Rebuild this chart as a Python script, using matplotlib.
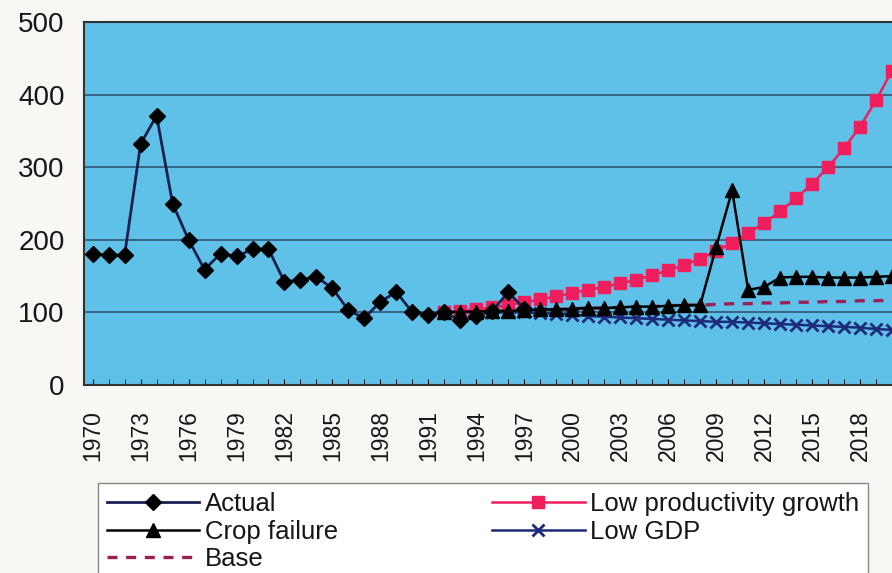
import numpy as np
import matplotlib.pyplot as plt

plt.rcParams['font.family'] = ['Liberation Sans', 'DejaVu Sans']

# skutečné hodnoty 1970-1997
years_actual = list(range(1970, 1998))
actual = [181, 179, 179, 332, 371, 250, 200, 159, 181, 177,
          187, 187, 142, 145, 149, 133, 103, 92, 115, 128,
          100, 97, 100, 89, 95, 102, 128, 105]

# projekce 1992-2020
years_proj = list(range(1992, 2021))
base = [100, 101, 101, 102, 102, 103, 104, 104, 105, 106,
        106, 107, 108, 108, 109, 110, 110, 111, 112, 112,
        113, 113, 114, 114, 115, 115, 116, 116, 117]
crop_failure = [100, 101, 101, 102, 102, 103, 104, 104, 105, 106,
                106, 107, 108, 108, 109, 110, 110, 190, 268, 131,
                135, 148, 149, 149, 148, 148, 148, 149, 150]
low_productivity = [100, 102, 104, 107, 110, 114, 118, 122, 127, 131,
                    135, 140, 145, 151, 158, 165, 174, 184, 196, 209,
                    223, 239, 257, 277, 300, 326, 356, 392, 433]
low_gdp = [100, 100, 100, 100, 100, 100, 99, 98, 97, 95,
           94, 93, 92, 91, 90, 89, 88, 87, 87, 86,
           85, 84, 83, 82, 81, 80, 79, 77, 76]

year_ticks = list(range(1970, 2019, 3))
value_ticks = [0, 100, 200, 300, 400, 500]

fig = plt.figure(figsize=(8.92, 5.73), dpi=100, facecolor="#f8f7f3")
ax = fig.add_axes([84 / 892, 188 / 573, 808 / 892, 363 / 573])
ax.set_facecolor("#5fc0e8")

# vodorovná mřížka
ax.set_axisbelow(True)
ax.yaxis.grid(True, color="#2f5670", linewidth=1.2)

ax.plot(years_proj, base, color="#9b1f52", linewidth=2.4,
        dashes=(3, 2.6), label="Base", zorder=2)
ax.plot(years_proj, low_gdp, color="#1d2a78", linewidth=1.8,
        marker="x", markersize=8, markeredgewidth=2, label="Low GDP", zorder=3)
ax.plot(years_proj, low_productivity, color="#ee1f5c", linewidth=1.8,
        marker="s", markersize=9, label="Low productivity growth", zorder=4)
ax.plot(years_proj, crop_failure, color="black", linewidth=1.8,
        marker="^", markersize=10, label="Crop failure", zorder=5)
ax.plot(years_actual, actual, color="#1a1f50", linewidth=2.0,
        marker="D", markersize=8.5, markerfacecolor="black",
        markeredgecolor="black", label="Actual", zorder=6)

ax.set_xlim(1969.46, 2019.96)
ax.set_ylim(0, 500)

ax.set_yticks(value_ticks)
ax.set_xticks(year_ticks)
ax.set_xticks(range(1970, 2021), minor=True)
ax.tick_params(axis="y", length=0, pad=14, labelsize=20, labelcolor="#161616")
ax.tick_params(axis="x", which="major", length=4, direction="in",
               pad=18, labelsize=16.5, labelrotation=90, labelcolor="#161616")
ax.tick_params(axis="x", which="minor", length=4, direction="in")

for side in ["left", "top", "bottom"]:
    ax.spines[side].set_color("#333333")
    ax.spines[side].set_linewidth(1.5)
ax.spines["right"].set_visible(False)

# legenda pod grafem
handles, labels = ax.get_legend_handles_labels()
order = ["Actual", "Crop failure", "Base", "Low productivity growth", "Low GDP"]
handles = [handles[labels.index(name)] for name in order]
leg = fig.legend(handles, order, loc="upper left",
                 bbox_to_anchor=(98 / 892, 1 - 483 / 573, 770 / 892, 0),
                 mode="expand", ncol=2, fontsize=18.5, frameon=True,
                 fancybox=False, edgecolor="#888888", framealpha=1,
                 handlelength=3.6, handletextpad=0.2, labelspacing=0.14,
                 borderpad=0.35, borderaxespad=0)
leg.get_frame().set_linewidth(1.0)
for text in leg.get_texts():
    text.set_color("#161616")

plt.savefig("out.png", dpi=100, facecolor=fig.get_facecolor())
